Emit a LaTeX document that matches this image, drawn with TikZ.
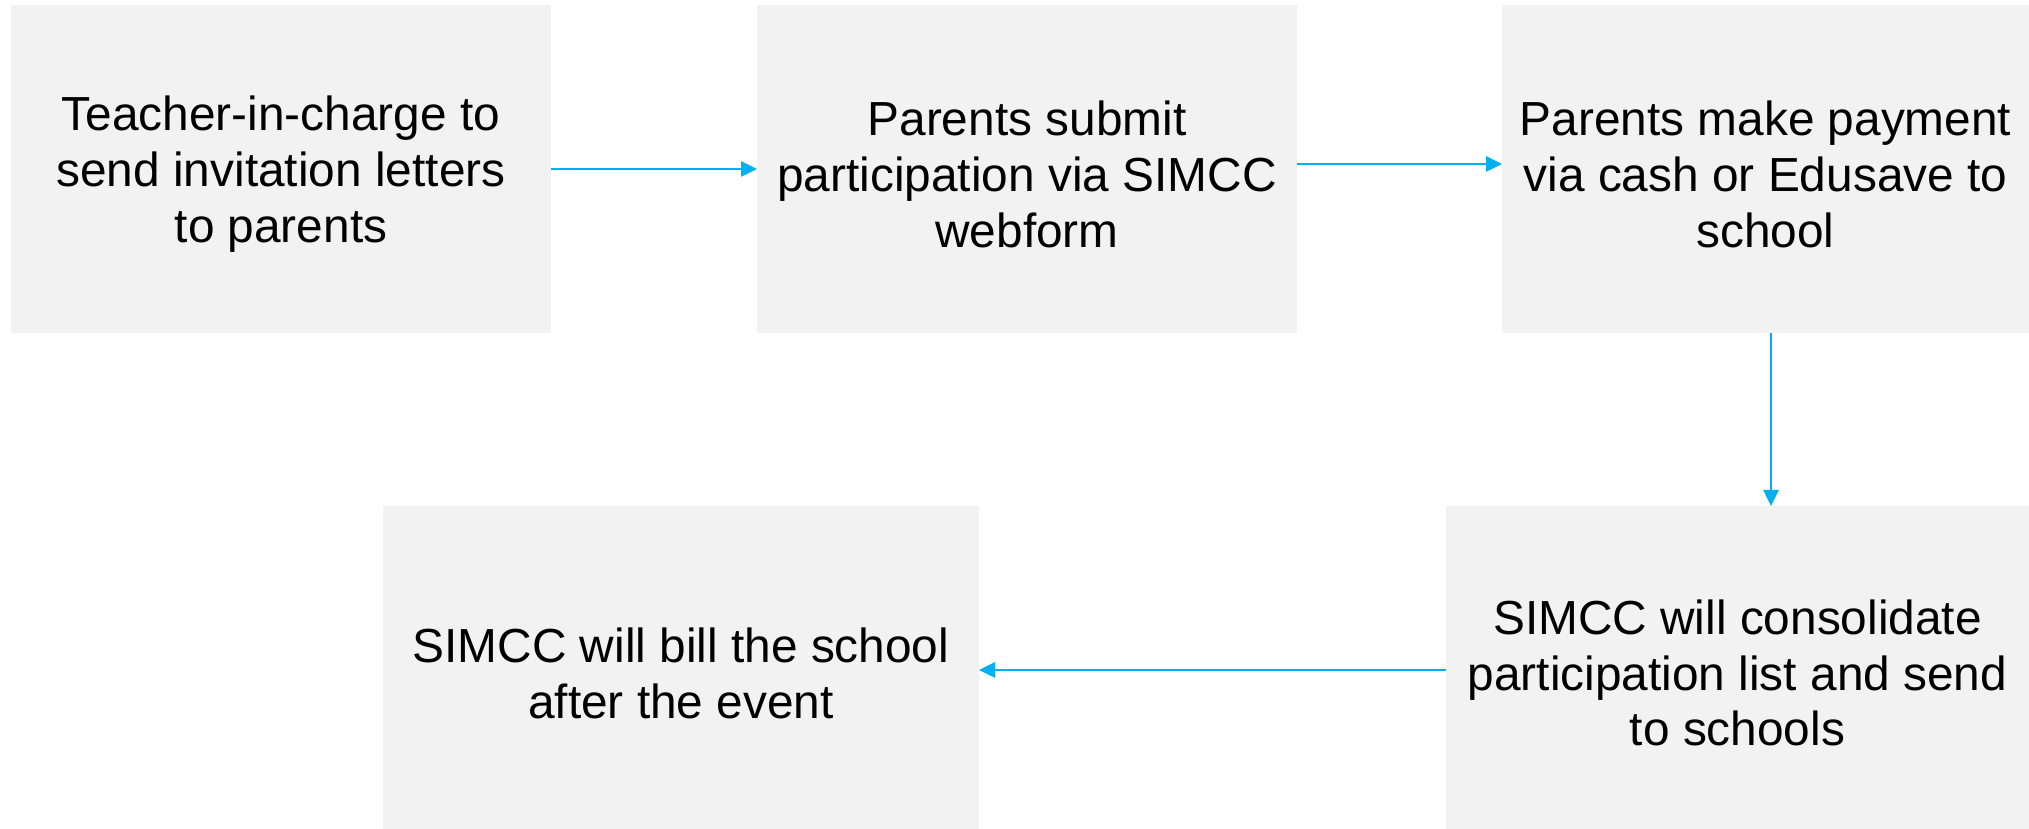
\documentclass[tikz,border=0pt]{standalone}
\usepackage{fontspec}
\setmainfont{Liberation Sans}
\usetikzlibrary{arrows.meta}
\definecolor{boxgray}{RGB}{242,242,242}
\definecolor{flowblue}{RGB}{0,176,240}
\tikzset{
  stagetext/.style = {align=center, inner sep=0pt, yshift=-0.55mm,
                      font=\fontsize{13.6}{15.9}\selectfont},
  stage/.style = {rectangle, fill=boxgray, inner sep=0pt, outer sep=0pt,
                  label={[stagetext]center:#1}},
  flow/.style = {draw=flowblue, line width=0.75pt,
                 -{Triangle[length=1.6mm, width=1.5mm]}}
}

\begin{document}
\begin{tikzpicture}[x=0.1mm, y=-0.1mm]
	\useasboundingbox (0,0) rectangle (2029,829);

	% Top row
	\node[stage={Teacher-in-charge to\\send invitation letters\\to parents},
		minimum width=54mm, minimum height=32.8mm] (invite) at (281,169) {};
	\node[stage={Parents submit\\participation via SIMCC\\webform},
		minimum width=54mm, minimum height=32.8mm] (submit) at (1027,169) {};
	\node[stage={Parents make payment\\via cash or Edusave to\\school},
		minimum width=52.7mm, minimum height=32.8mm] (payment) at (1765.5,169) {};

	% Bottom row
	\node[stage={SIMCC will consolidate\\participation list and send\\to schools},
		minimum width=58.3mm, minimum height=32.3mm] (consolidate) at (1737.5,667.5) {};
	\node[stage={SIMCC will bill the school\\after the event},
		minimum width=59.6mm, minimum height=32.3mm] (bill) at (681,667.5) {};

	% Arrows
	\draw[flow] (invite.east) -- (submit.west);
	\draw[flow] ([yshift=0.5mm]submit.east) -- ([yshift=0.5mm]payment.west);
	\draw[flow] ([xshift=0.55mm]payment.south) -- ([xshift=0.55mm]payment.south |- consolidate.north);
	\draw[flow] ([yshift=-0.25mm]consolidate.west) -- ([yshift=-0.25mm]bill.east);

\end{tikzpicture}
\end{document}
